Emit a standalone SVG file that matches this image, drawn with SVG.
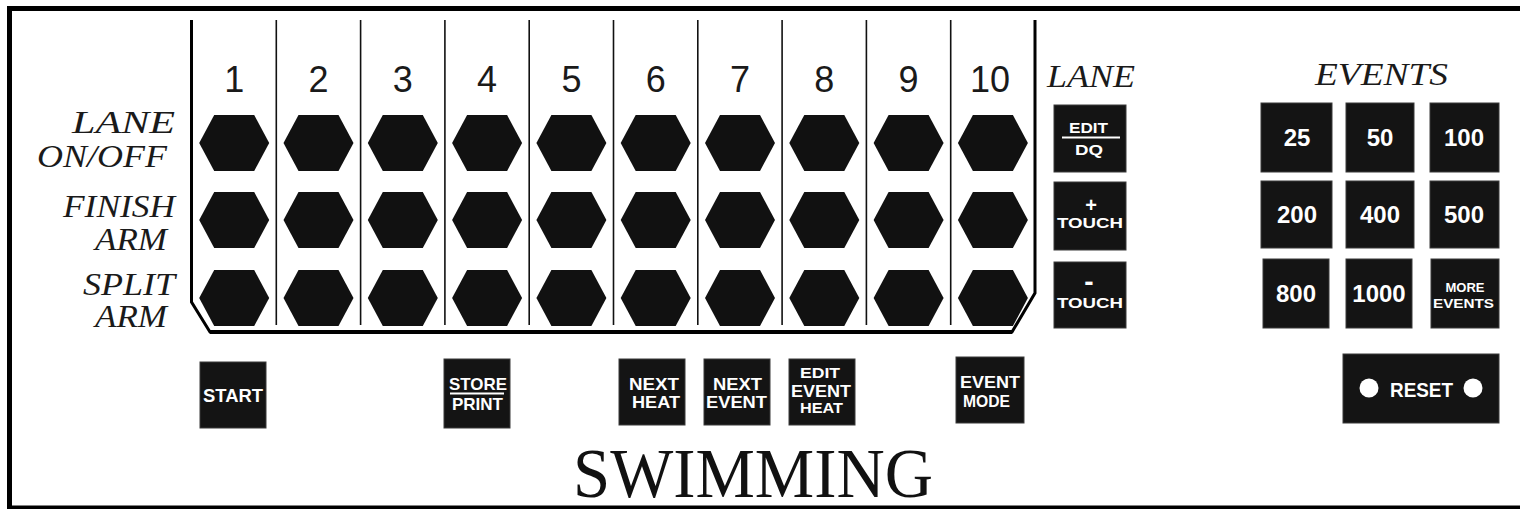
<svg xmlns="http://www.w3.org/2000/svg" xmlns:xlink="http://www.w3.org/1999/xlink" width="1520" height="509" viewBox="0 0 1520 509">
<style>
.num{font-family:"Liberation Sans",Arial,sans-serif;font-size:36px;fill:#1a1a1a;text-anchor:middle}
.lbl{font-family:"Liberation Serif","Times New Roman",serif;font-style:italic;font-size:31px;fill:#1a1a1a}
.btn{fill:#141414;stroke:#3a3a3a;stroke-width:1}
.bt{font-family:"Liberation Sans",Arial,sans-serif;font-weight:bold;fill:#fff}
.ev{font-family:"Liberation Sans",Arial,sans-serif;font-weight:bold;fill:#fff;font-size:24px;text-anchor:middle}
.hx{fill:#111}
.div{stroke:#111;stroke-width:1.6;fill:none}
.frm{stroke:#000;fill:none}
.title{font-family:"Liberation Serif","Times New Roman",serif;font-size:70px;fill:#111}
</style>
<defs>
<polygon id="hex" points="-35,0 -20,-28 20,-28 35,0 20,28 -20,28"/>
</defs>
<rect x="9.5" y="8.5" width="1520" height="499.5" class="frm" stroke-width="5"/>
<g id="connectors">
<path class="frm" stroke-width="3" d="M191.5,20 V302 L210,332 H1012 L1035,293 V20"/>
<path class="frm" stroke-width="4" d="M210,332 H1012"/>
<g class="div">
<line x1="276.3" y1="20" x2="276.3" y2="325"/>
<line x1="360.6" y1="20" x2="360.6" y2="325"/>
<line x1="444.9" y1="20" x2="444.9" y2="325"/>
<line x1="529.2" y1="20" x2="529.2" y2="325"/>
<line x1="613.5" y1="20" x2="613.5" y2="325"/>
<line x1="697.8" y1="20" x2="697.8" y2="325"/>
<line x1="782.1" y1="20" x2="782.1" y2="325"/>
<line x1="866.4" y1="20" x2="866.4" y2="325"/>
<line x1="950.7" y1="20" x2="950.7" y2="325"/>
</g>
</g>
<g id="lane-numbers">
<text class="num" x="234.2" y="92">1</text>
<text class="num" x="318.5" y="92">2</text>
<text class="num" x="402.8" y="92">3</text>
<text class="num" x="487.1" y="92">4</text>
<text class="num" x="571.4" y="92">5</text>
<text class="num" x="655.7" y="92">6</text>
<text class="num" x="740" y="92">7</text>
<text class="num" x="824.3" y="92">8</text>
<text class="num" x="908.6" y="92">9</text>
<text class="num" x="990" y="92">10</text>
</g>
<g id="row-labels">
<text class="lbl" x="72" y="133" textLength="103" lengthAdjust="spacingAndGlyphs">LANE</text>
<text class="lbl" x="37" y="167" textLength="130" lengthAdjust="spacingAndGlyphs">ON/OFF</text>
<text class="lbl" x="63" y="217" textLength="112" lengthAdjust="spacingAndGlyphs">FINISH</text>
<text class="lbl" x="95" y="250" textLength="72" lengthAdjust="spacingAndGlyphs">ARM</text>
<text class="lbl" x="83" y="295" textLength="92" lengthAdjust="spacingAndGlyphs">SPLIT</text>
<text class="lbl" x="95" y="327" textLength="72" lengthAdjust="spacingAndGlyphs">ARM</text>
</g>
<g id="hex-r1">
<g id="hex-1-1"><use href="#hex" class="hx" x="234.2" y="143"/></g>
<g id="hex-1-2"><use href="#hex" class="hx" x="318.5" y="143"/></g>
<g id="hex-1-3"><use href="#hex" class="hx" x="402.8" y="143"/></g>
<g id="hex-1-4"><use href="#hex" class="hx" x="487.1" y="143"/></g>
<g id="hex-1-5"><use href="#hex" class="hx" x="571.4" y="143"/></g>
<g id="hex-1-6"><use href="#hex" class="hx" x="655.7" y="143"/></g>
<g id="hex-1-7"><use href="#hex" class="hx" x="740" y="143"/></g>
<g id="hex-1-8"><use href="#hex" class="hx" x="824.3" y="143"/></g>
<g id="hex-1-9"><use href="#hex" class="hx" x="908.6" y="143"/></g>
<g id="hex-1-10"><use href="#hex" class="hx" x="992.9" y="143"/></g>
</g>
<g id="hex-r2">
<g id="hex-2-1"><use href="#hex" class="hx" x="234.2" y="220"/></g>
<g id="hex-2-2"><use href="#hex" class="hx" x="318.5" y="220"/></g>
<g id="hex-2-3"><use href="#hex" class="hx" x="402.8" y="220"/></g>
<g id="hex-2-4"><use href="#hex" class="hx" x="487.1" y="220"/></g>
<g id="hex-2-5"><use href="#hex" class="hx" x="571.4" y="220"/></g>
<g id="hex-2-6"><use href="#hex" class="hx" x="655.7" y="220"/></g>
<g id="hex-2-7"><use href="#hex" class="hx" x="740" y="220"/></g>
<g id="hex-2-8"><use href="#hex" class="hx" x="824.3" y="220"/></g>
<g id="hex-2-9"><use href="#hex" class="hx" x="908.6" y="220"/></g>
<g id="hex-2-10"><use href="#hex" class="hx" x="992.9" y="220"/></g>
</g>
<g id="hex-r3">
<g id="hex-3-1"><use href="#hex" class="hx" x="234.2" y="298"/></g>
<g id="hex-3-2"><use href="#hex" class="hx" x="318.5" y="298"/></g>
<g id="hex-3-3"><use href="#hex" class="hx" x="402.8" y="298"/></g>
<g id="hex-3-4"><use href="#hex" class="hx" x="487.1" y="298"/></g>
<g id="hex-3-5"><use href="#hex" class="hx" x="571.4" y="298"/></g>
<g id="hex-3-6"><use href="#hex" class="hx" x="655.7" y="298"/></g>
<g id="hex-3-7"><use href="#hex" class="hx" x="740" y="298"/></g>
<g id="hex-3-8"><use href="#hex" class="hx" x="824.3" y="298"/></g>
<g id="hex-3-9"><use href="#hex" class="hx" x="908.6" y="298"/></g>
<g id="hex-3-10"><use href="#hex" class="hx" x="992.9" y="298"/></g>
</g>
<g id="lane-title"><text class="lbl" x="1047" y="87" textLength="88" lengthAdjust="spacingAndGlyphs">LANE</text></g>
<g id="btn-edit-dq">
<rect class="btn" x="1054" y="105" width="72" height="67"/>
<text class="bt" x="1069" y="133" font-size="14" textLength="39" lengthAdjust="spacingAndGlyphs">EDIT</text>
<line x1="1062" y1="137.5" x2="1120" y2="137.5" stroke="#fff" stroke-width="2"/>
<text class="bt" x="1075" y="155" font-size="15" textLength="28" lengthAdjust="spacingAndGlyphs">DQ</text>
</g>
<g id="btn-plus-touch">
<rect class="btn" x="1054" y="182" width="72" height="68"/>
<text class="bt" x="1091" y="212" font-size="20" font-weight="normal" text-anchor="middle">+</text>
<text class="bt" x="1057" y="228" font-size="15" textLength="66" lengthAdjust="spacingAndGlyphs">TOUCH</text>
</g>
<g id="btn-minus-touch">
<rect class="btn" x="1054" y="262" width="72" height="66"/>
<text class="bt" x="1089" y="291" font-size="28" text-anchor="middle">-</text>
<text class="bt" x="1057" y="308" font-size="15" textLength="66" lengthAdjust="spacingAndGlyphs">TOUCH</text>
</g>
<g id="events-title"><text class="lbl" x="1315" y="85" textLength="133" lengthAdjust="spacingAndGlyphs">EVENTS</text></g>
<g id="ev-25"><rect class="btn" x="1261" y="103" width="71" height="69"/><text class="ev" x="1297" y="146">25</text></g>
<g id="ev-50"><rect class="btn" x="1346" y="103" width="68" height="69"/><text class="ev" x="1380" y="146">50</text></g>
<g id="ev-100"><rect class="btn" x="1430" y="103" width="69" height="69"/><text class="ev" x="1464" y="146">100</text></g>
<g id="ev-200"><rect class="btn" x="1261" y="181" width="71" height="67"/><text class="ev" x="1297" y="223">200</text></g>
<g id="ev-400"><rect class="btn" x="1346" y="181" width="68" height="67"/><text class="ev" x="1380" y="223">400</text></g>
<g id="ev-500"><rect class="btn" x="1430" y="181" width="69" height="67"/><text class="ev" x="1464" y="223">500</text></g>
<g id="ev-800"><rect class="btn" x="1263" y="259" width="66" height="69"/><text class="ev" x="1296" y="302">800</text></g>
<g id="ev-1000"><rect class="btn" x="1346" y="259" width="66" height="69"/><text class="ev" x="1379" y="302">1000</text></g>
<g id="ev-more"><rect class="btn" x="1431" y="259" width="68" height="69"/>
<text class="bt" x="1465" y="292" font-size="13" text-anchor="middle">MORE</text>
<text class="bt" x="1433" y="308" font-size="13" textLength="61" lengthAdjust="spacingAndGlyphs">EVENTS</text></g>
<g id="btn-reset"><rect class="btn" x="1343" y="354" width="156" height="69"/>
<circle cx="1369" cy="388" r="9.5" fill="#fff"/><circle cx="1473" cy="388" r="9.5" fill="#fff"/>
<text class="bt" x="1390" y="397" font-size="20" textLength="63" lengthAdjust="spacingAndGlyphs">RESET</text></g>
<g id="btn-start"><rect class="btn" x="200" y="362" width="66" height="66"/>
<text class="bt" x="203" y="402" font-size="18" textLength="60" lengthAdjust="spacingAndGlyphs">START</text></g>
<g id="btn-store-print"><rect class="btn" x="444" y="359" width="66" height="69"/>
<text class="bt" x="449" y="390" font-size="17" textLength="58" lengthAdjust="spacingAndGlyphs">STORE</text>
<line x1="450" y1="393.5" x2="504" y2="393.5" stroke="#fff" stroke-width="2"/>
<text class="bt" x="452" y="410" font-size="17" textLength="51" lengthAdjust="spacingAndGlyphs">PRINT</text></g>
<g id="btn-next-heat"><rect class="btn" x="619" y="359" width="66" height="66"/>
<text class="bt" x="629" y="390" font-size="17" textLength="50" lengthAdjust="spacingAndGlyphs">NEXT</text>
<text class="bt" x="632" y="408" font-size="17" textLength="48" lengthAdjust="spacingAndGlyphs">HEAT</text></g>
<g id="btn-next-event"><rect class="btn" x="704" y="359" width="66" height="66"/>
<text class="bt" x="713" y="390" font-size="17" textLength="49" lengthAdjust="spacingAndGlyphs">NEXT</text>
<text class="bt" x="706" y="408" font-size="17" textLength="61" lengthAdjust="spacingAndGlyphs">EVENT</text></g>
<g id="btn-edit-event-heat"><rect class="btn" x="789" y="359" width="66" height="66"/>
<text class="bt" x="800" y="378" font-size="15" textLength="40" lengthAdjust="spacingAndGlyphs">EDIT</text>
<text class="bt" x="791" y="397" font-size="17" textLength="60" lengthAdjust="spacingAndGlyphs">EVENT</text>
<text class="bt" x="800" y="413" font-size="15" textLength="43" lengthAdjust="spacingAndGlyphs">HEAT</text></g>
<g id="btn-event-mode"><rect class="btn" x="956" y="357" width="68" height="66"/>
<text class="bt" x="960" y="388" font-size="17" textLength="60" lengthAdjust="spacingAndGlyphs">EVENT</text>
<text class="bt" x="963" y="407" font-size="17" textLength="47" lengthAdjust="spacingAndGlyphs">MODE</text></g>
<g id="title"><text class="title" x="573" y="497" textLength="360" lengthAdjust="spacingAndGlyphs">SWIMMING</text></g>
</svg>
